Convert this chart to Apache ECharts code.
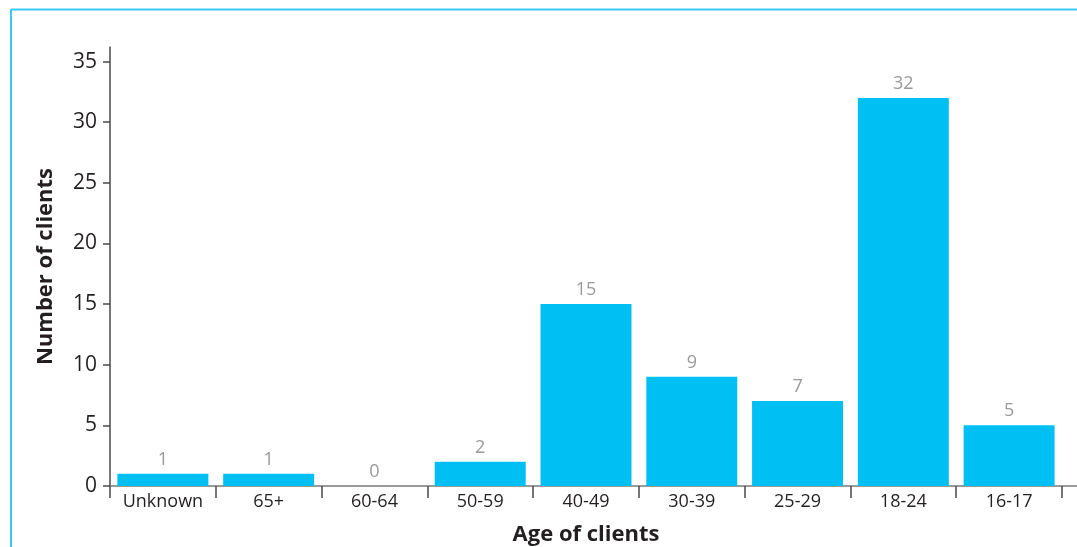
<!DOCTYPE html>
<html>
<head>
<meta charset="utf-8">
<style>
  html, body { margin: 0; padding: 0; background: #fff; }
  #chart { width: 1077px; height: 547px; }
</style>
<script src="https://cdn.jsdelivr.net/npm/echarts@6/dist/echarts.min.js"></script>
</head>
<body>
<div id="chart"></div>
<script>
// Clients by age group
const categories = ['Unknown', '65+', '60-64', '50-59', '40-49', '30-39', '25-29', '18-24', '16-17'];
const clientCounts = [1, 1, 0, 2, 15, 9, 7, 32, 5];
const yTicks = [0, 5, 10, 15, 20, 25, 30, 35];

const FONT = '"Open Sans", "Noto Sans", sans-serif';
const chart = echarts.init(document.getElementById('chart'), null, { renderer: 'canvas' });

chart.setOption({
  animation: false,
  backgroundColor: '#ffffff',
  textStyle: { fontFamily: FONT },
  grid: { left: 110, right: 15, top: 47, bottom: 61, containLabel: false, outerBoundsMode: 'none' },
  graphic: [
    // thin cyan frame along the top and left edges
    { type: 'line', shape: { x1: 11, y1: 9.5, x2: 1077, y2: 9.5 }, style: { stroke: '#3cc8f2', lineWidth: 2 } },
    { type: 'line', shape: { x1: 11, y1: 9, x2: 11, y2: 547 }, style: { stroke: '#3cc8f2', lineWidth: 2 } },
    // baseline continues slightly past the last category
    { type: 'line', shape: { x1: 1062, y1: 486, x2: 1077, y2: 486 }, style: { stroke: '#7a7a7a', lineWidth: 1.5 } }
  ],
  xAxis: {
    type: 'category',
    data: categories,
    name: 'Age of clients',
    nameLocation: 'middle',
    nameGap: 38,
    nameTextStyle: { fontFamily: FONT, fontSize: 22, fontWeight: 'bold', color: '#231f20' },
    axisLine: { show: true, lineStyle: { color: '#7a7a7a', width: 1.5 } },
    axisTick: { show: true, alignWithLabel: false, length: 12, lineStyle: { color: '#4a4a4a', width: 1.5 } },
    axisLabel: { fontFamily: FONT, fontSize: 18, color: '#231f20', margin: 7 },
    splitLine: { show: false }
  },
  yAxis: {
    type: 'value',
    min: 0,
    max: 36.2,
    interval: 5,
    name: 'Number of clients',
    nameLocation: 'middle',
    nameGap: 53,
    nameRotate: 90,
    nameTextStyle: { fontFamily: FONT, fontSize: 22, fontWeight: 'bold', color: '#231f20' },
    axisLine: { show: true, lineStyle: { color: '#4a4a4a', width: 1.5 } },
    axisTick: { show: true, length: 7, customValues: yTicks, lineStyle: { color: '#4a4a4a', width: 1.5 } },
    axisLabel: { fontFamily: FONT, fontSize: 21, color: '#231f20', margin: 13, customValues: yTicks },
    splitLine: { show: false }
  },
  series: [{
    type: 'bar',
    data: clientCounts,
    barCategoryGap: '14%',
    itemStyle: { color: '#00bff3' },
    label: {
      show: true,
      position: 'top',
      distance: 5,
      fontFamily: FONT,
      fontSize: 18,
      color: '#9a9a9a'
    }
  }]
});
</script>
</body>
</html>
